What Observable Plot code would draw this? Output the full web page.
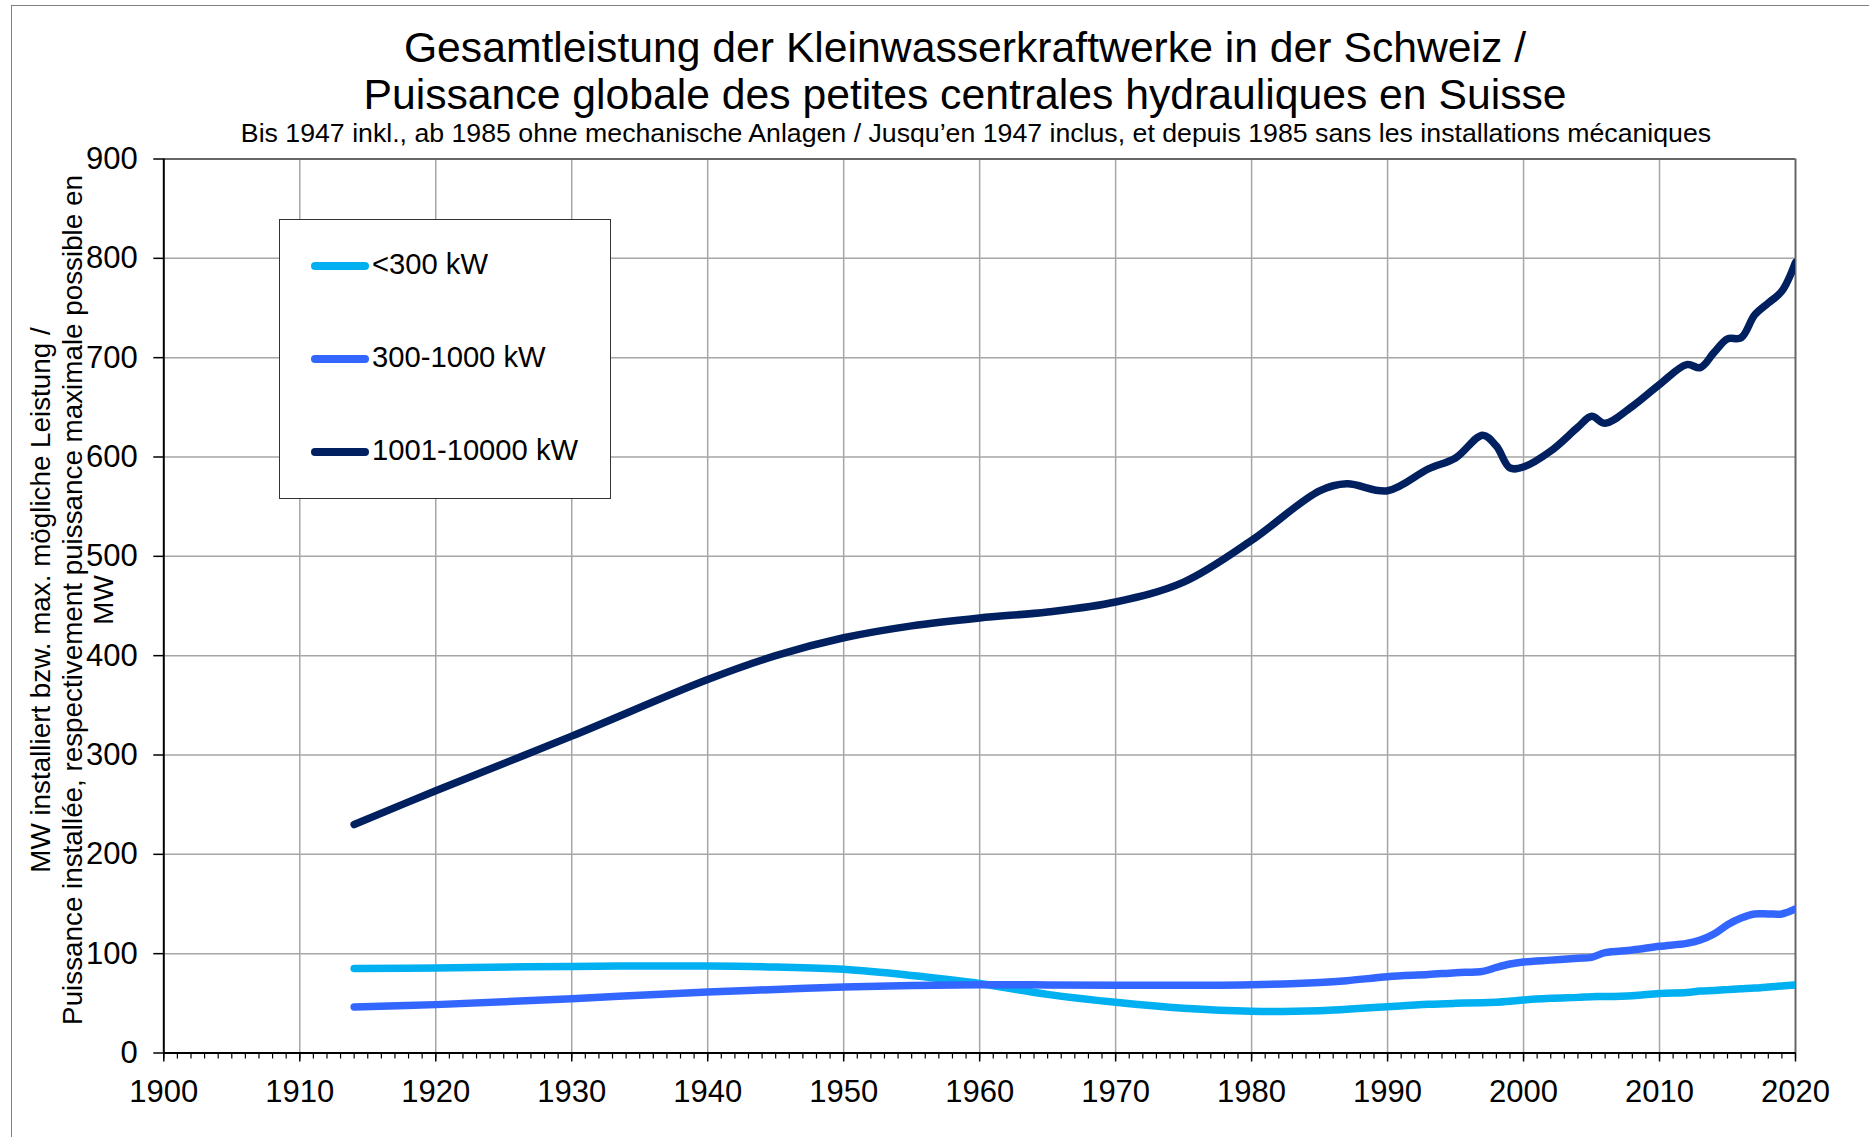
<!DOCTYPE html>
<html>
<head>
<meta charset="utf-8">
<script src="https://cdn.jsdelivr.net/npm/d3@7"></script>
<script src="https://cdn.jsdelivr.net/npm/@observablehq/plot@0.6"></script>
<style>
  html, body { margin: 0; padding: 0; background: #fff; }
  body { font-family: "Liberation Sans", Arial, sans-serif; color: #000; }
  #wrap { position: relative; width: 1869px; height: 1137px; overflow: hidden; }
  .t { position: absolute; white-space: nowrap; line-height: 1; transform: translateX(-50%); }
  #chart { position: absolute; left: 0; top: 120px; }
  #ytitle { position: absolute; left: 72px; top: 600px; width: 1000px; text-align: center;
            font-size: 27.8px; line-height: 31.5px; transform: translate(-50%, -50%) rotate(-90deg); white-space: nowrap; }
  #legend { position: absolute; left: 279px; top: 219px; width: 332px; height: 280px; background: #fff;
            border: 1.5px solid #333; box-sizing: border-box; }
  .li { position: absolute; left: 31px; height: 0; }
  .li .sw { position: absolute; left: 0; top: -4px; width: 58px; height: 8px; border-radius: 4px; }
  .li .lb { position: absolute; left: 61px; top: -16px; font-size: 29.2px; line-height: 1; white-space: nowrap; }
  .frame-top { position: absolute; left: 11px; top: 5px; width: 1858px; height: 0; border-top: 1.5px solid #7f7f7f; }
  .frame-left { position: absolute; left: 11px; top: 5px; width: 0; height: 1132px; border-left: 1.5px solid #7f7f7f; }
</style>
</head>
<body>
<div id="wrap">
  <div class="frame-top"></div>
  <div class="frame-left"></div>
  <div class="t" style="left:965px; top:26px; font-size:42.7px;">Gesamtleistung der Kleinwasserkraftwerke in der Schweiz /</div>
  <div class="t" style="left:965px; top:73px; font-size:42.7px;">Puissance globale des petites centrales hydrauliques en Suisse</div>
  <div class="t" style="left:976px; top:120px; font-size:26.7px;">Bis 1947 inkl., ab 1985 ohne mechanische Anlagen / Jusqu’en 1947 inclus, et depuis 1985 sans les installations mécaniques</div>
  <div id="chart"></div>
  <div id="ytitle">MW installiert bzw. max. mögliche Leistung /<br>Puissance installée, respectivement puissance maximale possible en<br>MW</div>
  <div id="legend"></div>
</div>
<script>
// ---- data ----
const years = [1914, 1920, 1930, 1940, 1945, 1950, 1955, 1960, 1965, 1970, 1975, 1980, 1985, 1987, 1990, 1993, 1995, 1997, 1998, 1999, 2000, 2002, 2004, 2005, 2006, 2008, 2010, 2012, 2013, 2014, 2015, 2016, 2017, 2018, 2019, 2020];
const small = [85, 85.6, 87.2, 87.6, 86.6, 84.2, 78, 70, 59, 51, 45, 42, 42.6, 44, 46.6, 49, 50, 50.7, 51, 52, 53.4, 55, 56, 56.7, 56.8, 57.7, 60, 61, 62.4, 63, 63.8, 64.6, 65.4, 66.5, 67.5, 68.5];
const medium = [46.3, 48.7, 54.7, 61.4, 64, 66.4, 68, 68.8, 68.5, 68.1, 68.2, 68.8, 71, 72.8, 76.8, 79, 80.9, 82.2, 86.2, 89.6, 91.6, 93.5, 95.3, 96.3, 101, 103.7, 107.4, 110.4, 113.8, 119.8, 129.2, 136, 140, 140, 140, 145];
const large = [230, 264, 319, 376, 400, 418, 430, 438, 444, 454, 474, 516, 566, 573, 566, 588, 599, 622, 611, 589, 590, 606, 630, 641, 634, 651, 673, 693, 690, 705, 719, 720, 743, 755, 767, 796];
const seriesNames = ["<300 kW", "300-1000 kW", "1001-10000 kW"];
const seriesColors = ["#00B0F0", "#3366FF", "#002060"];
const xTicks = [1900, 1910, 1920, 1930, 1940, 1950, 1960, 1970, 1980, 1990, 2000, 2010, 2020];
const yTicks = [0, 100, 200, 300, 400, 500, 600, 700, 800, 900];

const seriesValues = [small, medium, large];
const rows = seriesValues.flatMap((vals, i) => years.map((yr, j) => ({year: yr, value: vals[j], series: seriesNames[i]})));

const chart = Plot.plot({
  width: 1869,
  height: 1017,
  marginTop: 38.5,
  marginBottom: 84.5,
  marginLeft: 163.3,
  marginRight: 74,
  style: {fontFamily: "Liberation Sans, Arial, sans-serif", color: "#000", background: "transparent", overflow: "visible"},
  x: {domain: [1900, 2020]},
  y: {domain: [0, 900]},
  color: {domain: seriesNames, range: seriesColors},
  marks: [
    Plot.gridX(xTicks.slice(1, -1), {stroke: "#a6a6a6", strokeOpacity: 1, strokeWidth: 1.5}),
    Plot.gridY(yTicks.slice(1, -1), {stroke: "#a6a6a6", strokeOpacity: 1, strokeWidth: 1.5}),
    Plot.ruleY([900], {stroke: "#666", strokeWidth: 2}),
    Plot.ruleX([2020], {stroke: "#666", strokeWidth: 2}),
    Plot.lineY(rows, {x: "year", y: "value", z: "series", stroke: "series", strokeWidth: 7.5,
      curve: "catmull-rom", strokeLinecap: "round", strokeLinejoin: "round", clip: true}),
    Plot.ruleX([1900], {stroke: "#000", strokeWidth: 2}),
    Plot.ruleY([0], {stroke: "#000", strokeWidth: 2}),
    Plot.axisY({ticks: yTicks, tickSize: 10, tickPadding: 16, fontSize: 31, tickFormat: "d", label: null, strokeWidth: 1.5}),
    Plot.axisX({ticks: xTicks, tickSize: 9, tickPadding: 18, fontSize: 31, tickFormat: "d", label: null, strokeWidth: 1.5}),
    Plot.axisX({ticks: d3.range(1900, 2021, 1), tickSize: 6, text: null, label: null, strokeWidth: 1.2})
  ]
});
document.getElementById("chart").appendChild(chart);

// legend
const legend = document.getElementById("legend");
const rowY = [46, 139, 232];
seriesNames.forEach((name, i) => {
  const item = document.createElement("div");
  item.className = "li";
  item.style.top = rowY[i] + "px";
  const sw = document.createElement("div");
  sw.className = "sw";
  sw.style.background = seriesColors[i];
  const lb = document.createElement("div");
  lb.className = "lb";
  lb.textContent = name;
  item.appendChild(sw);
  item.appendChild(lb);
  legend.appendChild(item);
});
</script>
</body>
</html>
